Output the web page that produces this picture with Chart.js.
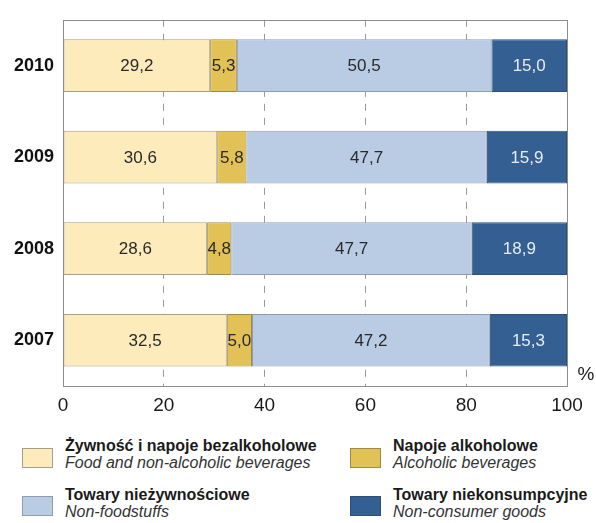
<!DOCTYPE html>
<html>
<head>
<meta charset="utf-8">
<script src="https://cdn.jsdelivr.net/npm/chart.js@4/dist/chart.umd.min.js"></script>
<style>
  html, body { margin: 0; padding: 0; background: #fff; }
  body { width: 596px; height: 523px; position: relative; overflow: hidden; font-family: "Liberation Sans", Arial, sans-serif; }
  #wrap { position: absolute; left: 0; top: 0; width: 596px; height: 425px; }
  .leg { position: absolute; font-size: 16px; line-height: 17px; color: #1a1a1a; white-space: nowrap; }
  .leg b { display: block; font-weight: bold; }
  .leg i { display: block; font-style: italic; color: #333; }
  .sw { position: absolute; width: 31px; height: 20px; box-sizing: border-box; border: 1px solid #9a9a9a; }
</style>
</head>
<body>
<div id="wrap"><canvas id="c"></canvas></div>
<div id="legend"></div>
<script>
const categories = ["2010", "2009", "2008", "2007"];
const food = [29.2, 30.6, 28.6, 32.5];
const alcohol = [5.3, 5.8, 4.8, 5.0];
const nonFood = [50.5, 47.7, 47.7, 47.2];
const nonConsumer = [15.0, 15.9, 18.9, 15.3];
const xTicks = [0, 20, 40, 60, 80, 100];
const seriesPL = ["Żywność i napoje bezalkoholowe", "Napoje alkoholowe", "Towary nieżywnościowe", "Towary niekonsumpcyjne"];
const seriesEN = ["Food and non-alcoholic beverages", "Alcoholic beverages", "Non-foodstuffs", "Non-consumer goods"];

const fills = ["#fdebbb", "#e2c257", "#b9cce4", "#345f93"];
const borders = ["#a89f86", "#9d8a45", "#8e9cb0", "#2e4f78"];
const labelColors = ["#2a2a2a", "#2a2a2a", "#2a2a2a", "#e6ecf4"];
const allData = [food, alcohol, nonFood, nonConsumer];

const fmt = v => v.toFixed(1).replace(".", ",");

const valuePlugin = {
  id: "values",
  afterDatasetsDraw(chart) {
    const ctx = chart.ctx;
    ctx.save();
    ctx.font = "17px 'Liberation Sans', Arial, sans-serif";
    ctx.textAlign = "center";
    ctx.textBaseline = "middle";
    chart.data.datasets.forEach((ds, di) => {
      const meta = chart.getDatasetMeta(di);
      meta.data.forEach((el, i) => {
        const cx = (el.x + el.base) / 2;
        ctx.fillStyle = labelColors[di];
        ctx.fillText(fmt(ds.data[i]), cx, el.y + 1);
      });
    });
    ctx.restore();
  }
};

const framePlugin = {
  id: "frame",
  afterDraw(chart) {
    const { ctx, chartArea: a } = chart;
    ctx.save();
    ctx.strokeStyle = "#8c8c8c";
    ctx.lineWidth = 1;
    ctx.strokeRect(Math.round(a.left) + 0.5, Math.round(a.top) + 0.5, Math.round(a.right - a.left), Math.round(a.bottom - a.top));
    ctx.fillStyle = "#1a1a1a";
    ctx.font = "19px 'Liberation Sans', Arial, sans-serif";
    ctx.textAlign = "center";
    ctx.textBaseline = "middle";
    ctx.fillText("%", a.right + 19, a.bottom - 11);
    ctx.restore();
  }
};

new Chart(document.getElementById("c"), {
  type: "bar",
  data: {
    labels: categories,
    datasets: allData.map((d, i) => ({
      label: seriesPL[i],
      data: d,
      backgroundColor: fills[i],
      borderColor: borders[i],
      borderWidth: 1,
      borderSkipped: false,
      barPercentage: 0.575,
      categoryPercentage: 1.0
    }))
  },
  options: {
    indexAxis: "y",
    responsive: true,
    maintainAspectRatio: false,
    animation: false,
    layout: { padding: { top: 16, right: 29, left: 0, bottom: 0 } },
    plugins: { legend: { display: false }, tooltip: { enabled: false } },
    scales: {
      x: {
        stacked: true,
        min: 0, max: 100,
        afterBuildTicks: s => { s.ticks = xTicks.map(v => ({ value: v })); },
        afterFit: s => { s.height = 39; },
        border: { display: false, dash: [7, 7] },
        grid: {
          drawTicks: false,
          color: c => (c.tick && (c.tick.value === 0 || c.tick.value === 100)) ? "rgba(0,0,0,0)" : "#9a9a9a",
          lineWidth: 1
        },
        ticks: {
          padding: 8,
          color: "#1a1a1a",
          font: { family: "'Liberation Sans', Arial, sans-serif", size: 19 }
        }
      },
      y: {
        stacked: true,
        afterFit: s => { s.width = 63; },
        border: { display: false },
        grid: { display: false, drawTicks: false },
        ticks: {
          padding: 9,
          color: "#111",
          font: { family: "'Liberation Sans', Arial, sans-serif", size: 18, weight: "bold" }
        }
      }
    }
  },
  plugins: [valuePlugin, framePlugin]
});

// Legend
const legend = document.getElementById("legend");
const pos = [
  { sx: 22, sy: 448, tx: 65, ty: 437 },
  { sx: 350, sy: 448, tx: 393, ty: 437 },
  { sx: 22, sy: 496, tx: 65, ty: 486 },
  { sx: 350, sy: 496, tx: 393, ty: 486 }
];
seriesPL.forEach((name, i) => {
  const sw = document.createElement("div");
  sw.className = "sw";
  sw.style.left = pos[i].sx + "px";
  sw.style.top = pos[i].sy + "px";
  sw.style.background = fills[i];
  sw.style.borderColor = borders[i];
  legend.appendChild(sw);
  const t = document.createElement("div");
  t.className = "leg";
  t.style.left = pos[i].tx + "px";
  t.style.top = pos[i].ty + "px";
  t.innerHTML = "<b>" + name + "</b><i>" + seriesEN[i] + "</i>";
  legend.appendChild(t);
});
</script>
</body>
</html>
